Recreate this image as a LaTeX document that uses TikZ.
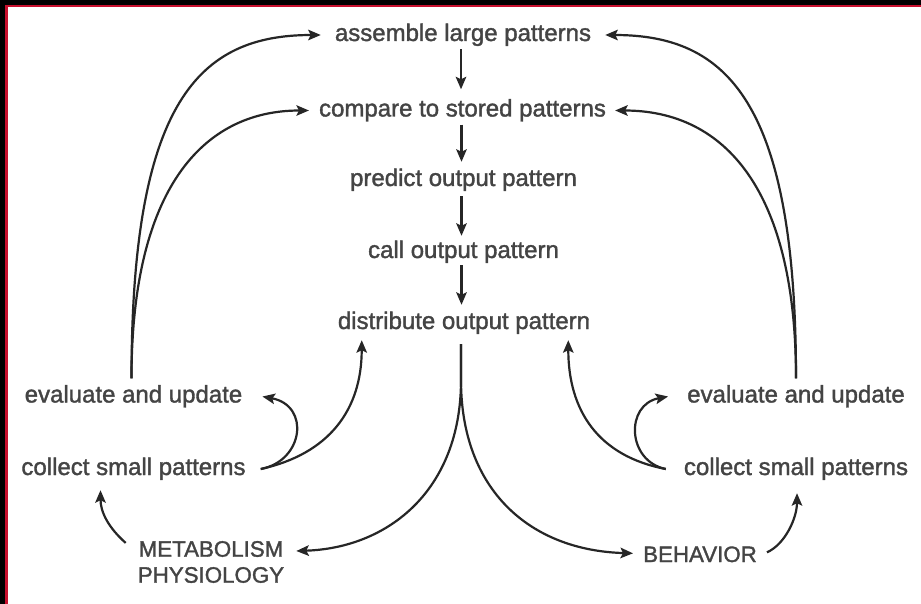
\documentclass[tikz,border=0pt]{standalone}
\usepackage{fontspec}
\setmainfont{Liberation Sans}[FakeBold=1.5]
\usetikzlibrary{arrows.meta,calc}
\definecolor{txt}{HTML}{444444}
\definecolor{ln}{HTML}{262626}
\definecolor{frred}{HTML}{C8102E}
\begin{document}
\begin{tikzpicture}[x=1bp,y=-1bp,
  lbl/.style={inner sep=0pt, text=txt, font=\fontsize{24bp}{28bp}\selectfont, text height=17bp, text depth=5bp, anchor=base},
  caps/.style={inner sep=0pt, text=txt, font=\fontsize{22.3bp}{26bp}\selectfont, align=center},
  arr/.style={draw=ln, line width=2.2bp, -{Stealth[length=12.5bp,width=10.5bp,inset=2.5bp]}}]
\useasboundingbox (0,0) rectangle (921,604);
\fill[white] (0,0) rectangle (921,604);
% frame
\fill[black] (0,0) rectangle (921,5);
\fill[black] (0,0) rectangle (5,604);
\fill[frred] (5,5) rectangle (921,7.5);
\fill[frred] (5,5) rectangle (7.5,604);
% nodes
\node[lbl] (assemble) at (463,41) {assemble large patterns};
\node[lbl] (compare) at (462.5,116.5) {compare to stored patterns};
\node[lbl] (predict) at (463.5,186) {predict output pattern};
\node[lbl] (call) at (463.5,258) {call output pattern};
\node[lbl] (distribute) at (464,329) {distribute output pattern};
\node[lbl] (evalL) at (133.5,402.5) {evaluate and update};
\node[lbl] (collectL) at (133.5,475) {collect small patterns};
\node[lbl] (evalR) at (796,402.5) {evaluate and update};
\node[lbl] (collectR) at (796,475) {collect small patterns};
\node[caps] (metab) at (211,562) {METABOLISM\\PHYSIOLOGY};
\node[caps, anchor=base] (behav) at (700,562) {BEHAVIOR};
% central chain
\draw[arr, shorten <=3bp, shorten >=10bp] ([xshift=-2bp]assemble.south) -- ([xshift=-2bp]assemble.south |- compare.north);
\draw[arr, shorten <=3bp, shorten >=7bp] ([xshift=-1bp]compare.south) -- ([xshift=-1bp]compare.south |- predict.north);
\draw[arr, shorten <=5bp, shorten >=5bp] ([xshift=-2bp]predict.south) -- ([xshift=-2bp]predict.south |- call.north);
\draw[arr, shorten <=2bp, shorten >=7bp] ([xshift=-2bp]call.south) -- ([xshift=-2bp]call.south |- distribute.north);
% big feedback curves
\draw[arr, shorten >=14bp] ([xshift=-2bp,yshift=7bp]evalL.north) .. controls +(0,-278) and +(-135,0) .. (assemble.west);
\draw[arr, shorten >=10bp] ([xshift=-2bp,yshift=7bp]evalL.north) .. controls +(0,-188) and +(-117,0) .. (compare.west);
\draw[arr, shorten >=14bp] ([yshift=7bp]evalR.north) .. controls +(0,-278) and +(135,0) .. (assemble.east);
\draw[arr, shorten >=9bp] ([yshift=7bp]evalR.north) .. controls +(0,-188) and +(119,0) .. (compare.east);
% small arcs
\draw[arr] ([xshift=15bp]collectL.east) .. controls +(43,-8) and +(48,9) .. ([xshift=20bp]evalL.east);
\draw[arr] ([xshift=15bp]collectL.east) .. controls +(68,-15) and +(0,70) .. ($(distribute.south west)+(24,6)$);
\draw[arr] ([xshift=-18bp]collectR.west) .. controls +(-39,-8) and +(-43,8) .. ([xshift=-19bp]evalR.west);
\draw[arr] ([xshift=-18bp]collectR.west) .. controls +(-68,-13) and +(0,70) .. ($(distribute.south east)+(-22,6)$);
% fork
\coordinate (fork) at ($(distribute.south)+(-3,10)$);
\coordinate (split) at ($(fork)+(0,36)$);
\draw[arr] (fork) -- (split) .. controls +(0,110) and +(92,-3) .. ($(metab.east)+(12,-11)$);
\draw[arr] (fork) -- (split) .. controls +(0,110) and +(-103,-3) .. ($(behav.west)+(-10,-1)$);
% bottom arrows
\draw[arr] ($(metab.north west)+(-12,2)$) .. controls +(-17,-15) and +(0,22) .. ($(collectL.south)+(-33,10)$);
\draw[arr] ($(behav.east)+(10,-2)$) .. controls +(18,-8) and +(0,25) .. ($(collectR.south)+(1,13)$);
\end{tikzpicture}
\end{document}
